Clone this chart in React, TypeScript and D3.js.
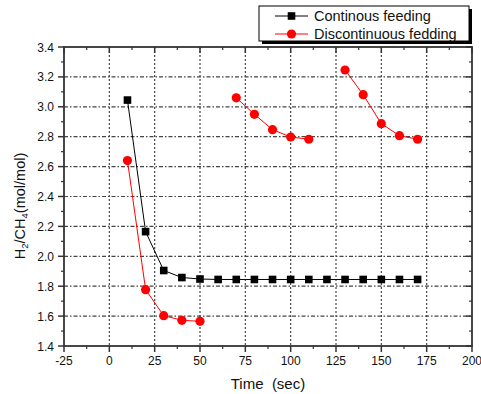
import React from "react";
import * as d3 from "d3";

const xTicks = [-25, 0, 25, 50, 75, 100, 125, 150, 175, 200];
const yTicks = [1.4, 1.6, 1.8, 2.0, 2.2, 2.4, 2.6, 2.8, 3.0, 3.2, 3.4];

const contX = [10, 20, 30, 40, 50, 60, 70, 80, 90, 100, 110, 120, 130, 140, 150, 160, 170];
const contY = [3.045, 2.165, 1.905, 1.858, 1.848, 1.845, 1.845, 1.845, 1.845, 1.845, 1.845, 1.845, 1.845, 1.845, 1.845, 1.845, 1.845];

const discX = [10, 20, 30, 40, 50, 60, 70, 80, 90, 100, 110, 120, 130, 140, 150, 160, 170];
const discY: (number | null)[] = [2.64, 1.777, 1.603, 1.572, 1.565, null, 3.06, 2.95, 2.847, 2.798, 2.783, null, 3.246, 3.081, 2.887, 2.807, 2.783];

const seriesNames = ["Continous feeding", "Discontinuous fedding"];

export default function App() {
  const W = 481, H = 394;
  const L = 64, R = 472, T = 47, B = 346;
  const x = d3.scaleLinear().domain([-25, 200]).range([L, R]);
  const y = d3.scaleLinear().domain([1.4, 3.4]).range([B, T]);
  const font = "Arial, 'Liberation Sans', sans-serif";
  const axisColor = "#333";

  const xMinor = d3.range(-25, 200.01, 12.5).filter((v) => !xTicks.includes(v));
  const yMinor = d3.range(1.5, 3.4, 0.2);

  const cont = contX.map((v, i) => [v, contY[i]] as [number, number]);
  const disc = discX.map((v, i) => [v, discY[i]] as [number, number | null]);

  const line = d3.line<[number, number]>().x((d) => x(d[0])).y((d) => y(d[1]));
  const lineD = d3
    .line<[number, number | null]>()
    .defined((d) => d[1] !== null)
    .x((d) => x(d[0]))
    .y((d) => y(d[1] as number));

  return (
    <svg width={W} height={H} style={{ position: "absolute", left: 0, top: 0, background: "#fff" }}>
      <rect x={0} y={0} width={W} height={H} fill="#fff" />
      {/* grid */}
      {xTicks.slice(1, -1).map((v) => (
        <line key={"gx" + v} x1={x(v)} x2={x(v)} y1={T} y2={B} stroke="#444" strokeWidth={1.2} strokeDasharray="2,2" />
      ))}
      {yTicks.slice(1, -1).map((v) => (
        <line key={"gy" + v} x1={L} x2={R} y1={y(v)} y2={y(v)} stroke="#444" strokeWidth={1.2} strokeDasharray="4,2,1.5,2" />
      ))}
      {/* axes box */}
      <rect x={L} y={T} width={R - L} height={B - T} fill="none" stroke={axisColor} strokeWidth={1.8} />
      {/* left ticks */}
      {yTicks.map((v) => (
        <line key={"ly" + v} x1={L - 6} x2={L} y1={y(v)} y2={y(v)} stroke={axisColor} strokeWidth={1.5} />
      ))}
      {yMinor.map((v) => (
        <line key={"lym" + v} x1={L - 3} x2={L} y1={y(v)} y2={y(v)} stroke={axisColor} strokeWidth={1.2} />
      ))}
      {/* right ticks */}
      {yTicks.map((v) => (
        <line key={"ry" + v} x1={R - 6} x2={R} y1={y(v)} y2={y(v)} stroke={axisColor} strokeWidth={1.5} />
      ))}
      {yMinor.map((v) => (
        <line key={"rym" + v} x1={R - 3} x2={R} y1={y(v)} y2={y(v)} stroke={axisColor} strokeWidth={1.2} />
      ))}
      {/* bottom ticks */}
      {xTicks.map((v) => (
        <line key={"bx" + v} x1={x(v)} x2={x(v)} y1={B} y2={B + 6} stroke={axisColor} strokeWidth={1.5} />
      ))}
      {xMinor.map((v) => (
        <line key={"bxm" + v} x1={x(v)} x2={x(v)} y1={B} y2={B + 3} stroke={axisColor} strokeWidth={1.2} />
      ))}
      {/* top ticks */}
      {xTicks.map((v) => (
        <line key={"tx" + v} x1={x(v)} x2={x(v)} y1={T} y2={T + 6} stroke={axisColor} strokeWidth={1.5} />
      ))}
      {xMinor.map((v) => (
        <line key={"txm" + v} x1={x(v)} x2={x(v)} y1={T} y2={T + 3} stroke={axisColor} strokeWidth={1.2} />
      ))}
      {/* tick labels */}
      {yTicks.map((v) => (
        <text key={"yl" + v} x={L - 10} y={y(v) + 4.5} textAnchor="end" fontFamily={font} fontSize={12} fill="#111">
          {v.toFixed(1)}
        </text>
      ))}
      {xTicks.map((v) => (
        <text key={"xl" + v} x={x(v)} y={B + 19} textAnchor="middle" fontFamily={font} fontSize={12} fill="#111">
          {v}
        </text>
      ))}
      {/* axis titles */}
      <text x={x(87.5)} y={389} textAnchor="middle" fontFamily={font} fontSize={15} fill="#111" style={{ whiteSpace: "pre" }}>
        {"Time  (sec)"}
      </text>
      <text transform={`translate(25, ${206}) rotate(-90)`} textAnchor="middle" fontFamily={font} fontSize={14.5} fill="#111">
        <tspan>H</tspan>
        <tspan fontSize={9.5} dy={3}>2</tspan>
        <tspan dy={-3}>/CH</tspan>
        <tspan fontSize={9.5} dy={3}>4</tspan>
        <tspan dy={-3}>(mol/mol)</tspan>
      </text>
      {/* series lines */}
      <path d={line(cont) || ""} fill="none" stroke="#000" strokeWidth={1} />
      <path d={lineD(disc) || ""} fill="none" stroke="#ff0000" strokeWidth={1} />
      {cont.map((d, i) => (
        <rect key={"cs" + i} x={x(d[0]) - 3.8} y={y(d[1]) - 3.8} width={7.6} height={7.6} fill="#000" />
      ))}
      {disc
        .filter((d) => d[1] !== null)
        .map((d, i) => (
          <circle key={"dc" + i} cx={x(d[0])} cy={y(d[1] as number)} r={4.6} fill="#ff0000" />
        ))}
      {/* legend */}
      <rect x={262} y={9} width={210} height={35} fill="#000" />
      <rect x={259} y={6} width={210} height={35} fill="#fff" stroke="#000" strokeWidth={1} />
      <line x1={275} x2={308} y1={16} y2={16} stroke="#000" strokeWidth={1} />
      <rect x={291.5 - 3.8} y={16 - 3.8} width={7.6} height={7.6} fill="#000" />
      <text x={314} y={21} fontFamily={font} fontSize={14.5} fill="#111">{seriesNames[0]}</text>
      <line x1={275} x2={308} y1={34} y2={34} stroke="#ff0000" strokeWidth={1} />
      <circle cx={291.5} cy={34} r={4.6} fill="#ff0000" />
      <text x={314} y={39} fontFamily={font} fontSize={14.5} fill="#111">{seriesNames[1]}</text>
    </svg>
  );
}
